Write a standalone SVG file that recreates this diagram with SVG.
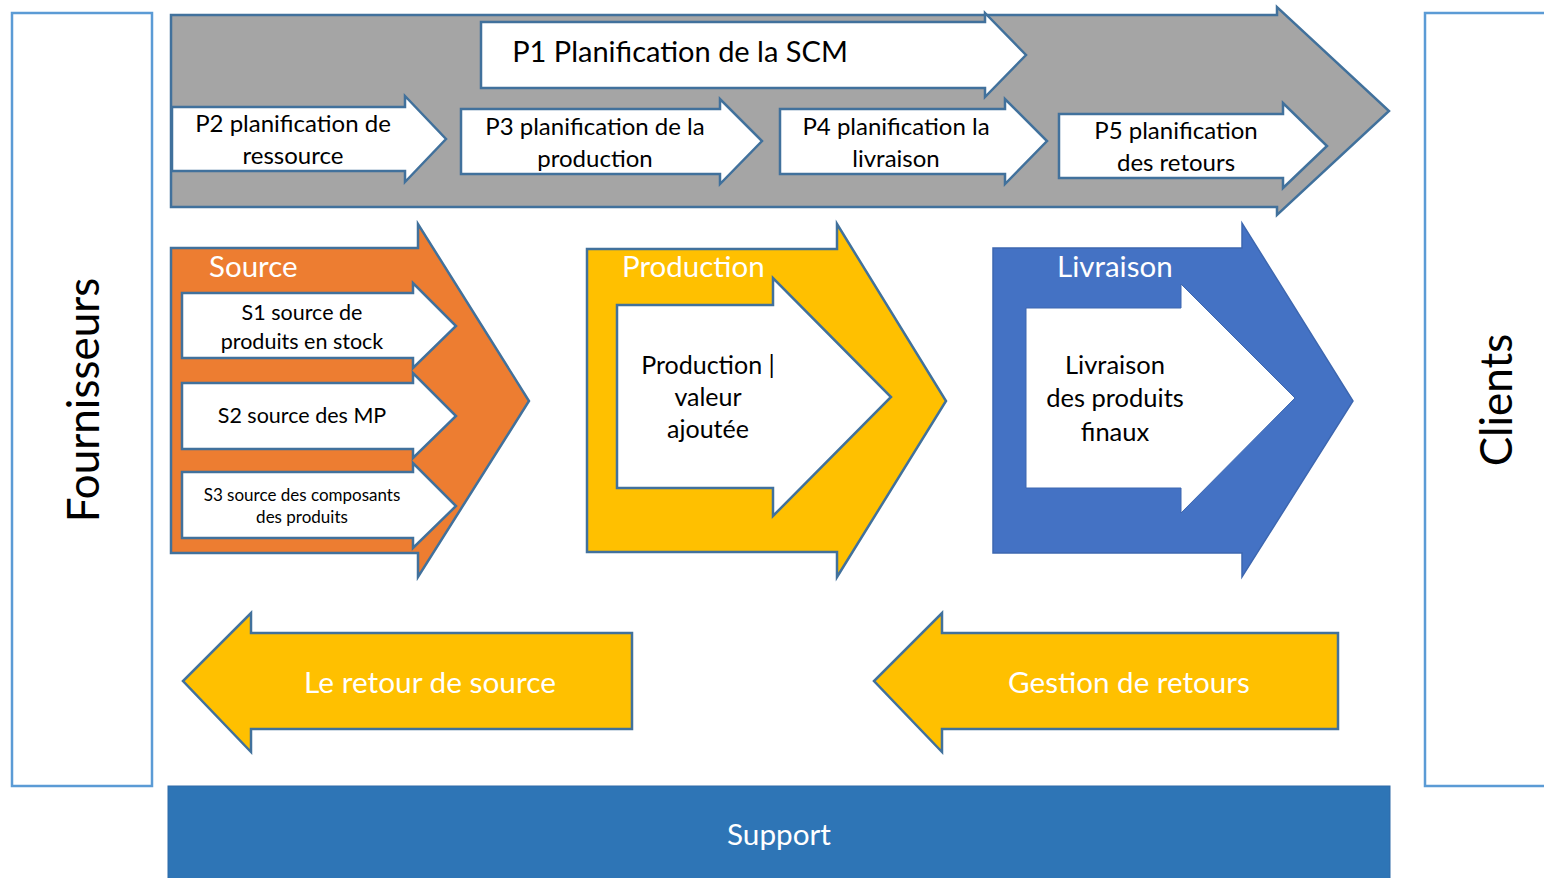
<svg xmlns="http://www.w3.org/2000/svg" width="1544" height="878" viewBox="0 0 1544 878">
<style>
.t{font-family:Lato,"Open Sans","Liberation Sans",sans-serif;text-anchor:middle;fill:#000}
.w{fill:#fff}
.st{stroke:#41719C;stroke-width:2.5;stroke-linejoin:miter}
.wh{fill:#fff}
.side{fill:#fff;stroke:#5B9BD5;stroke-width:2.5}
</style>
<rect width="1544" height="878" fill="#fff"/>
<g id="fournisseurs">
<rect class="side" x="12" y="13" width="140" height="773"/>
<text class="t" font-size="44" transform="translate(99,400) rotate(-90)">Fournisseurs</text>
</g>
<g id="clients">
<rect class="side" x="1425" y="13" width="130" height="773"/>
<text class="t" font-size="44" transform="translate(1512,400) rotate(-90)">Clients</text>
</g>
<g id="p1-scm">
<polygon class="st" fill="#A5A5A5" points="171,15 1277,15 1277,7 1389,111 1277,215 1277,207 171,207"/>
<polygon class="st wh" points="481,22 985,22 985,13 1026,55 985,97 985,88 481,88"/>
<text class="t" font-size="29" x="680" y="62">P1 Planification de la SCM</text>
</g>
<g id="p2">
<polygon class="st wh" points="172,107 405,107 405,96 446,139 405,182 405,171 172,171"/>
<text class="t" font-size="24" x="293" y="132">P2 planification de</text>
<text class="t" font-size="24" x="293" y="164">ressource</text>
</g>
<g id="p3">
<polygon class="st wh" points="461,109 720,109 720,99 762,141 720,184 720,174 461,174"/>
<text class="t" font-size="24" x="595" y="135">P3 planification de la</text>
<text class="t" font-size="24" x="595" y="167">production</text>
</g>
<g id="p4">
<polygon class="st wh" points="780,109 1005,109 1005,99 1047,141 1005,184 1005,174 780,174"/>
<text class="t" font-size="24" x="896" y="135">P4 planification la</text>
<text class="t" font-size="24" x="896" y="167">livraison</text>
</g>
<g id="p5">
<polygon class="st wh" points="1059,114 1283,114 1283,103 1327,146 1283,188 1283,178 1059,178"/>
<text class="t" font-size="24" x="1176" y="139">P5 planification</text>
<text class="t" font-size="24" x="1176" y="171">des retours</text>
</g>
<g id="source">
<polygon class="st" fill="#ED7D31" points="171,248 418,248 418,224 529,401 418,577 418,553 171,553"/>
<text class="t w" font-size="29.5" x="209" y="277" style="text-anchor:start">Source</text>
</g>
<g id="s1">
<polygon class="st wh" points="182,293 413,293 413,283 456,326 413,368 413,358 182,358"/>
<text class="t" font-size="21.5" x="302" y="320">S1 source de</text>
<text class="t" font-size="21.5" x="302" y="349">produits en stock</text>
</g>
<g id="s2">
<polygon class="st wh" points="182,383 413,383 413,373 456,416 413,458 413,449 182,449"/>
<text class="t" font-size="21.5" x="302" y="423">S2 source des MP</text>
</g>
<g id="s3">
<polygon class="st wh" points="182,472 413,472 413,463 456,506 413,548 413,538 182,538"/>
<text class="t" font-size="17" x="302" y="501">S3 source des composants</text>
<text class="t" font-size="17" x="302" y="523">des produits</text>
</g>
<g id="production">
<polygon class="st" fill="#FFC000" points="587,249 837,249 837,224 946,401 837,577 837,552 587,552"/>
<text class="t w" font-size="29.5" x="622" y="277" style="text-anchor:start">Production</text>
<polygon class="st wh" points="617,305 773,305 773,278 891,397 773,516 773,488 617,488"/>
<text class="t" font-size="25" x="708" y="374">Production |</text>
<text class="t" font-size="25" x="708" y="406">valeur</text>
<text class="t" font-size="25" x="708" y="438">ajoutée</text>
</g>
<g id="livraison">
<polygon fill="#4472C4" stroke="#3D67B0" stroke-width="1.5" points="993,248 1242,248 1242,223 1353,401 1242,577 1242,553 993,553"/>
<text class="t w" font-size="29.5" x="1057" y="277" style="text-anchor:start">Livraison</text>
<polygon class="wh" stroke="#3D67B0" stroke-width="1" points="1026,308 1181,308 1181,284 1295,398 1181,513 1181,488 1026,488"/>
<text class="t" font-size="25.5" x="1115" y="374">Livraison</text>
<text class="t" font-size="25.5" x="1115" y="407">des produits</text>
<text class="t" font-size="25.5" x="1115" y="441">finaux</text>
</g>
<g id="retour-source">
<polygon class="st" fill="#FFC000" points="632,633 251,633 251,613 183,681 251,752 251,729 632,729"/>
<text class="t w" font-size="29.8" x="430" y="693">Le retour de source</text>
</g>
<g id="gestion-retours">
<polygon class="st" fill="#FFC000" points="1338,633 942,633 942,613 874,681 942,752 942,729 1338,729"/>
<text class="t w" font-size="29.6" x="1129" y="693">Gestion de retours</text>
</g>
<g id="support">
<rect x="168" y="786" width="1222" height="100" fill="#2E75B6" stroke="#2F6BA8" stroke-width="1"/>
<text class="t w" font-size="29.7" x="779" y="845">Support</text>
</g>
<g id="connectors"></g>
</svg>
